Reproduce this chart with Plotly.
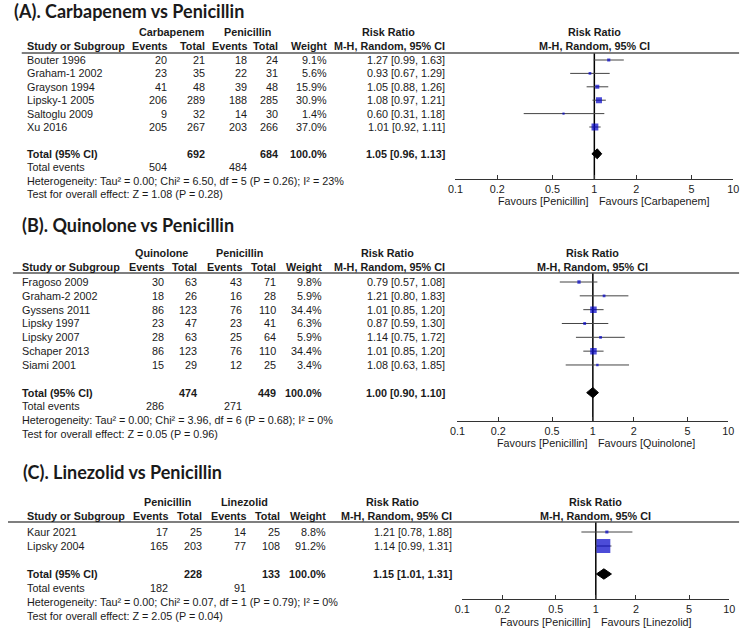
import math
import plotly.graph_objects as go

W, H = 749, 629
FONT = "Liberation Sans"
FS = 10.8
TXT = "#1a1a1a"
BLUE = "#0000c8"

# ---------------- data ----------------
tick_vals = [0.1, 0.2, 0.5, 1, 2, 5, 10]
tick_text = ["0.1", "0.2", "0.5", "1", "2", "5", "10"]
col_heads = ["Events", "Total", "Events", "Total", "Weight", "M-H, Random, 95% CI"]

a_title = "(A). Carbapenem vs Penicillin"
a_groups = ["Carbapenem", "Penicillin"]
a_studies = ["Bouter 1996", "Graham-1 2002", "Grayson 1994", "Lipsky-1 2005", "Saltoglu 2009", "Xu 2016"]
a_ev1 = [20, 23, 41, 206, 9, 205]
a_tot1 = [21, 35, 48, 289, 32, 267]
a_ev2 = [18, 22, 39, 188, 14, 203]
a_tot2 = [24, 31, 48, 285, 30, 266]
a_weight = [9.1, 5.6, 15.9, 30.9, 1.4, 37.0]
a_rr = [1.27, 0.93, 1.05, 1.08, 0.60, 1.01]
a_lo = [0.99, 0.67, 0.88, 0.97, 0.31, 0.92]
a_hi = [1.63, 1.29, 1.26, 1.21, 1.18, 1.11]
a_totals = [692, 684]
a_total_events = [504, 484]
a_total_rr = [1.05, 0.96, 1.13]
a_het = "Heterogeneity: Tau² = 0.00; Chi² = 6.50, df = 5 (P = 0.26); I² = 23%"
a_test = "Test for overall effect: Z = 1.08 (P = 0.28)"
a_favours = ["Favours [Penicillin]", "Favours [Carbapenem]"]

b_title = "(B). Quinolone vs Penicillin"
b_groups = ["Quinolone", "Penicillin"]
b_studies = ["Fragoso 2009", "Graham-2 2002", "Gyssens 2011", "Lipsky 1997", "Lipsky 2007", "Schaper 2013", "Siami 2001"]
b_ev1 = [30, 18, 86, 23, 28, 86, 15]
b_tot1 = [63, 26, 123, 47, 63, 123, 29]
b_ev2 = [43, 16, 76, 23, 25, 76, 12]
b_tot2 = [71, 28, 110, 41, 64, 110, 25]
b_weight = [9.8, 5.9, 34.4, 6.3, 5.9, 34.4, 3.4]
b_rr = [0.79, 1.21, 1.01, 0.87, 1.14, 1.01, 1.08]
b_lo = [0.57, 0.80, 0.85, 0.59, 0.75, 0.85, 0.63]
b_hi = [1.08, 1.83, 1.20, 1.30, 1.72, 1.20, 1.85]
b_totals = [474, 449]
b_total_events = [286, 271]
b_total_rr = [1.00, 0.90, 1.10]
b_het = "Heterogeneity: Tau² = 0.00; Chi² = 3.96, df = 6 (P = 0.68); I² = 0%"
b_test = "Test for overall effect: Z = 0.05 (P = 0.96)"
b_favours = ["Favours [Penicillin]", "Favours [Quinolone]"]

c_title = "(C). Linezolid vs Penicillin"
c_groups = ["Penicillin", "Linezolid"]
c_studies = ["Kaur 2021", "Lipsky 2004"]
c_ev1 = [17, 165]
c_tot1 = [25, 203]
c_ev2 = [14, 77]
c_tot2 = [25, 108]
c_weight = [8.8, 91.2]
c_rr = [1.21, 1.14]
c_lo = [0.78, 0.99]
c_hi = [1.88, 1.31]
c_totals = [228, 133]
c_total_events = [182, 91]
c_total_rr = [1.15, 1.01, 1.31]
c_het = "Heterogeneity: Tau² = 0.00; Chi² = 0.07, df = 1 (P = 0.79); I² = 0%"
c_test = "Test for overall effect: Z = 2.05 (P = 0.04)"
c_favours = ["Favours [Penicillin]", "Favours [Linezolid]"]

# ---------------- layout (pixel positions) ----------------
A_LAY = dict(title_y=11, title_x=4, r0=60, s=13.4, hdr1=-2.08, hdr2=-1.04, line_row=-0.52,
             name_x=17, cols=[164, 203, 246, 277, 327, 447], grp=[167, 244, 388],
             line_x=[14, 745], ax_y=179, ax_x=[456, 739], fav_y=201)
B_LAY = dict(title_y=225, title_x=12, r0=282, s=13.83, hdr1=-2.1, hdr2=-1.08, line_row=-0.65,
             name_x=12, cols=[161, 195, 240, 275, 322, 447], grp=[156, 236, 387],
             line_x=[5, 745], ax_y=421, ax_x=[458, 734], fav_y=443)
C_LAY = dict(title_y=472, title_x=13, r0=532, s=14.0, hdr1=-2.14, hdr2=-1.14, line_row=-0.71,
             name_x=17, cols=[165, 200, 245, 279, 326, 454], grp=[163, 241, 392],
             line_x=[0, 745], ax_y=599, ax_x=[463, 735], fav_y=622)

fig = go.Figure()
annotations = []
shapes = []


def px_x(p):
    return p / W


def px_y(p):
    return 1 - p / H


def ann(text, x, y, xref, yref, xanchor="left", bold=False, size=FS, family=FONT, **kw):
    if bold:
        text = "<b>" + text + "</b>"
    annotations.append(dict(text=text, x=x, y=y, xref=xref, yref=yref, xanchor=xanchor,
                            yanchor="middle", showarrow=False,
                            font=dict(family=family, size=size, color=TXT), **kw))


def panel(k, title, groups, studies, ev1, tot1, ev2, tot2, weight, rr, lo, hi,
          totals, total_events, total_rr, het, test, favours, L):
    suffix = "" if k == 1 else str(k)
    xr, yr = "x" + suffix, "y" + suffix
    n = len(studies)
    rows = list(range(n))
    t_row = n + 1
    # title
    ann(title, px_x(L["title_x"]), px_y(L["title_y"]), "paper", "paper", bold=True,
        size=18, family="Lato")
    # header
    cols = L["cols"]
    ann(groups[0], px_x(L["grp"][0]), L["hdr1"], "paper", yr, "center", bold=True)
    ann(groups[1], px_x(L["grp"][1]), L["hdr1"], "paper", yr, "center", bold=True)
    ann("Risk Ratio", px_x(L["grp"][2]), L["hdr1"], "paper", yr, "center", bold=True)
    ann("Study or Subgroup", px_x(L["name_x"]), L["hdr2"], "paper", yr, "left", bold=True)
    for cx, h in zip(cols, col_heads):
        ann(h, px_x(cx), L["hdr2"], "paper", yr, "right", bold=True)
    ann("Risk Ratio", 0, L["hdr1"], xr, yr, "center", bold=True)
    ann("M-H, Random, 95% CI", 0, L["hdr2"], xr, yr, "center", bold=True)
    shapes.append(dict(type="line", xref="paper", yref=yr, x0=px_x(L["line_x"][0]),
                       x1=px_x(L["line_x"][1]), y0=L["line_row"], y1=L["line_row"],
                       line=dict(color="#555", width=1.5)))
    # study rows
    for i in rows:
        vals = [str(ev1[i]), str(tot1[i]), str(ev2[i]), str(tot2[i]), f"{weight[i]:.1f}%",
                f"{rr[i]:.2f} [{lo[i]:.2f}, {hi[i]:.2f}]"]
        ann(studies[i], px_x(L["name_x"]), i, "paper", yr, "left")
        for cx, v in zip(cols, vals):
            ann(v, px_x(cx), i, "paper", yr, "right")
    # total row
    ann("Total (95% CI)", px_x(L["name_x"]), t_row, "paper", yr, "left", bold=True)
    ann(str(totals[0]), px_x(cols[1]), t_row, "paper", yr, "right", bold=True)
    ann(str(totals[1]), px_x(cols[3]), t_row, "paper", yr, "right", bold=True)
    ann("100.0%", px_x(cols[4]), t_row, "paper", yr, "right", bold=True)
    ann(f"{total_rr[0]:.2f} [{total_rr[1]:.2f}, {total_rr[2]:.2f}]", px_x(cols[5]), t_row,
        "paper", yr, "right", bold=True)
    ann("Total events", px_x(L["name_x"]), t_row + 1, "paper", yr, "left")
    ann(str(total_events[0]), px_x(cols[0]), t_row + 1, "paper", yr, "right")
    ann(str(total_events[1]), px_x(cols[2]), t_row + 1, "paper", yr, "right")
    ann(het, px_x(L["name_x"]), t_row + 2, "paper", yr, "left")
    ann(test, px_x(L["name_x"]), t_row + 3, "paper", yr, "left")
    # favours
    ann(favours[0], 0, px_y(L["fav_y"]), xr, "paper", "right", xshift=-3)
    ann(favours[1], 0, px_y(L["fav_y"]), xr, "paper", "left", xshift=3)

    # forest: reference line at 1
    axis_row = (L["ax_y"] - L["r0"]) / L["s"]
    fig.add_trace(go.Scatter(x=[1, 1], y=[L["line_row"], axis_row], mode="lines",
                             line=dict(color="black", width=1.5), xaxis=xr, yaxis=yr,
                             hoverinfo="skip", showlegend=False))
    # CI lines
    cx_, cy_ = [], []
    for i in rows:
        cx_ += [lo[i], hi[i], None]
        cy_ += [i, i, None]
    fig.add_trace(go.Scatter(x=cx_, y=cy_, mode="lines", line=dict(color="#444", width=1),
                             xaxis=xr, yaxis=yr, showlegend=False, hoverinfo="skip"))
    # squares
    fig.add_trace(go.Scatter(x=rr, y=rows, mode="markers",
                             marker=dict(symbol="square", color=BLUE,
                                         size=[2 + 0.13 * w for w in weight], line=dict(width=0)),
                             xaxis=xr, yaxis=yr, showlegend=False))
    # diamond
    h = 0.37
    fig.add_trace(go.Scatter(x=[total_rr[1], total_rr[0], total_rr[2], total_rr[0], total_rr[1]],
                             y=[t_row, t_row - h, t_row, t_row + h, t_row],
                             mode="lines", fill="toself", fillcolor="black",
                             line=dict(color="black", width=1), xaxis=xr, yaxis=yr,
                             showlegend=False))
    # axes
    fig.update_layout(**{
        "xaxis" + suffix: dict(type="log", domain=[px_x(L["ax_x"][0]), px_x(L["ax_x"][1])],
                               range=[-1, 1], anchor="free", position=px_y(L["ax_y"]),
                               showline=True, linecolor="#333", linewidth=1,
                               ticks="inside", ticklen=4, tickcolor="#333", tickwidth=1,
                               tickvals=tick_vals, ticktext=tick_text, showgrid=False,
                               zeroline=False, fixedrange=True,
                               tickfont=dict(family=FONT, size=FS, color=TXT)),
        "yaxis" + suffix: dict(domain=[0, 1], range=[(H - L["r0"]) / L["s"], -L["r0"] / L["s"]],
                               visible=False, fixedrange=True),
    })


panel(1, a_title, a_groups, a_studies, a_ev1, a_tot1, a_ev2, a_tot2, a_weight, a_rr, a_lo, a_hi,
      a_totals, a_total_events, a_total_rr, a_het, a_test, a_favours, A_LAY)
panel(2, b_title, b_groups, b_studies, b_ev1, b_tot1, b_ev2, b_tot2, b_weight, b_rr, b_lo, b_hi,
      b_totals, b_total_events, b_total_rr, b_het, b_test, b_favours, B_LAY)
panel(3, c_title, c_groups, c_studies, c_ev1, c_tot1, c_ev2, c_tot2, c_weight, c_rr, c_lo, c_hi,
      c_totals, c_total_events, c_total_rr, c_het, c_test, c_favours, C_LAY)

fig.update_layout(width=W, height=H, autosize=False, margin=dict(l=0, r=0, t=0, b=0),
                  paper_bgcolor="white", plot_bgcolor="rgba(0,0,0,0)",
                  annotations=annotations, shapes=shapes, showlegend=False, hovermode=False)
fig.write_html("out.html", config={"displayModeBar": False},
               post_script="document.body.style.margin='0px';")
